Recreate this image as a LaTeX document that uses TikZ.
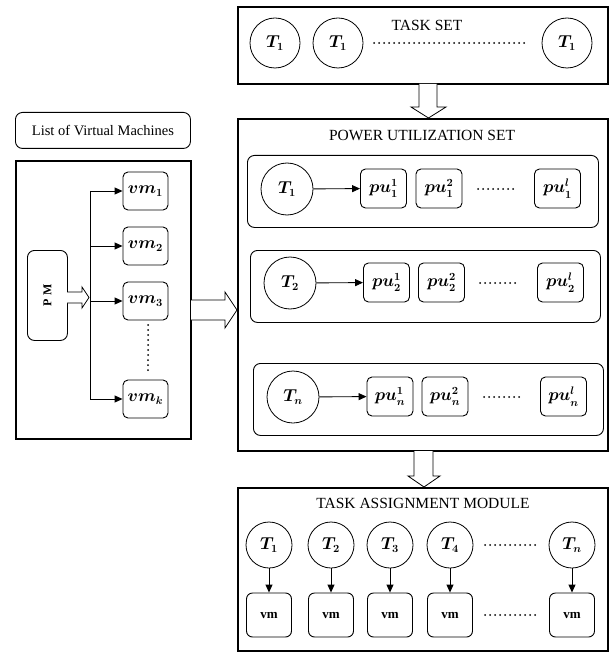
\documentclass[tikz,border=0pt]{standalone}
\usepackage{fontspec}
\setmainfont{Liberation Serif}
\usetikzlibrary{arrows.meta,calc}
\begin{document}
\begin{tikzpicture}[x=1pt,y=-1pt,
 outerbox/.style={draw, line width=1.6pt, anchor=north west, inner sep=0},
 rbox/.style={draw, rounded corners=7pt, line width=0.9pt, anchor=north west, inner sep=0},
 smallbox/.style={draw, rounded corners=5pt, line width=0.9pt, minimum width=46pt, minimum height=39pt, inner sep=0, font=\fontsize{16}{18}\selectfont\boldmath},
 tcirc/.style={draw, circle, line width=0.8pt, minimum size=50pt, inner sep=0, font=\fontsize{16}{18}\selectfont\boldmath},
 ttl/.style={font=\fontsize{15.5}{17}\selectfont},
 conn/.style={-{Triangle[length=8pt,width=7pt]}, line width=0.9pt},
 hollow/.style={draw, line width=0.8pt, fill=white, line join=miter},
 hdots/.style={line width=2pt, line cap=round, dash pattern=on 0pt off 5pt},
 vmbox/.style={draw, rounded corners=6pt, line width=0.9pt, minimum width=45pt, minimum height=44pt, inner sep=0, font=\fontsize{13}{15}\selectfont\bfseries}
]
\useasboundingbox (0,0) rectangle (610,652);

% ---------------- outer boxes
\node[outerbox, minimum width=370pt, minimum height=77pt] (ts) at (237,6) {};
\node[outerbox, minimum width=370pt, minimum height=332pt] (pus) at (237,118) {};
\node[outerbox, minimum width=370pt, minimum height=163pt] (tam) at (237,487) {};
\node[rbox, minimum width=175pt, minimum height=36pt, font=\fontsize{14.5}{16}\selectfont] (lv) at (15,112) {List of Virtual Machines};
\node[outerbox, minimum width=175pt, minimum height=278pt] (lm) at (15,160) {};

% ---------------- task set
\node[ttl] (tstitle) at (427,25) {TASK SET};
\node[tcirc] (s1) at (275,43) {$T_1$};
\node[tcirc] (s2) at (338,43) {$T_1$};
\node[tcirc] (s3) at (567,43) {$T_1$};
\draw[hdots] (374,43) -- (527,43);

% ---------------- power utilization set
\node[ttl] (putitle) at (422,135) {POWER UTILIZATION SET};
\node[rbox, minimum width=351pt, minimum height=72pt] (r1) at (247,155) {};
\node[rbox, minimum width=350pt, minimum height=72pt] (r2) at (250,250) {};
\node[rbox, minimum width=350pt, minimum height=72pt] (r3) at (253,363) {};

\node[tcirc, minimum size=52pt] (c1) at (287,189) {$T_1$};
\node[smallbox] (p11) at (383.5,188.5) {$pu_1^1$};
\node[smallbox] (p12) at (439,188.5) {$pu_1^2$};
\node[smallbox] (p1l) at (557.5,188.5) {$pu_1^l$};
\draw[hdots] (478,189) -- (516,189);
\draw[conn] (c1) -- (p11);

\node[tcirc, minimum size=52pt] (c2) at (290,283) {$T_2$};
\node[smallbox] (p21) at (386.5,282.5) {$pu_2^1$};
\node[smallbox] (p22) at (441.5,282.5) {$pu_2^2$};
\node[smallbox] (p2l) at (560.5,282.5) {$pu_2^l$};
\draw[hdots] (480,283) -- (518,283);
\draw[conn] (c2) -- (p21);

\node[tcirc, minimum size=52pt] (c3) at (293,397) {$T_n$};
\node[smallbox] (p31) at (390,396.5) {$pu_n^1$};
\node[smallbox] (p32) at (445,396.5) {$pu_n^2$};
\node[smallbox] (p3l) at (563.5,396.5) {$pu_n^l$};
\draw[hdots] (484,397) -- (522,397);
\draw[conn] (c3) -- (p31);

% ---------------- task assignment module
\node[ttl] (tatitle) at (423,503) {TASK ASSIGNMENT MODULE};
\node[tcirc, minimum size=46pt] (a1) at (269,545) {$T_1$};
\node[tcirc, minimum size=46pt] (a2) at (331,545) {$T_2$};
\node[tcirc, minimum size=46pt] (a3) at (390,545) {$T_3$};
\node[tcirc, minimum size=46pt] (a4) at (450,545) {$T_4$};
\node[tcirc, minimum size=46pt] (a5) at (572,545) {$T_n$};
\node[vmbox] (v1) at (269,615) {vm};
\node[vmbox] (v2) at (331,615) {vm};
\node[vmbox] (v3) at (390,615) {vm};
\node[vmbox] (v4) at (450,615) {vm};
\node[vmbox] (v5) at (572,615) {vm};
\draw[hdots] (485,545) -- (535,545);
\draw[hdots] (485,615) -- (535,615);
\foreach \i in {1,...,5} { \draw[conn] (a\i) -- (v\i); }

% ---------------- list of virtual machines
\node[rbox, minimum width=40pt, minimum height=90pt] (pm) at (27,250) {};
\node[rotate=90, font=\bfseries\fontsize{12}{14}\selectfont] (pmtext) at (pm.center) {P M};
\node[smallbox, minimum width=45pt, minimum height=38pt] (vm1) at (145.5,191) {$vm_1$};
\node[smallbox, minimum width=45pt, minimum height=38pt] (vm2) at (145.5,246) {$vm_2$};
\node[smallbox, minimum width=45pt, minimum height=38pt] (vm3) at (145.5,301) {$vm_3$};
\node[smallbox, minimum width=45pt, minimum height=38pt] (vmk) at (145.5,399) {$vm_k$};
\coordinate (trtop) at (90,191);
\coordinate (trbot) at (90,399);
\draw[line width=0.9pt] (trtop) -- (trbot);
\draw[conn] (trtop) -- (vm1);
\draw[conn] (vm2 -| trtop) -- (vm2);
\draw[conn] (vm3 -| trtop) -- (vm3);
\draw[conn] (trbot) -- (vmk);
\draw[hdots] (148,325) -- (148,372);

% ---------------- hollow arrows
\draw[hollow] (67,292) -- (82,292) -- (82,287) -- (89,297.5) -- (82,308) -- (82,303) -- (67,303);
\draw[hollow] (191,300) -- (225,300) -- (225,292) -- (237,310) -- (225,328) -- (225,320) -- (191,320);
\draw[hollow] (419,84) -- (419,107) -- (411,107) -- (428.5,118) -- (446,107) -- (437,107) -- (437,84);
\draw[hollow] (414,451) -- (414,476) -- (408,476) -- (424,487) -- (440,476) -- (433,476) -- (433,451);
\end{tikzpicture}
\end{document}
